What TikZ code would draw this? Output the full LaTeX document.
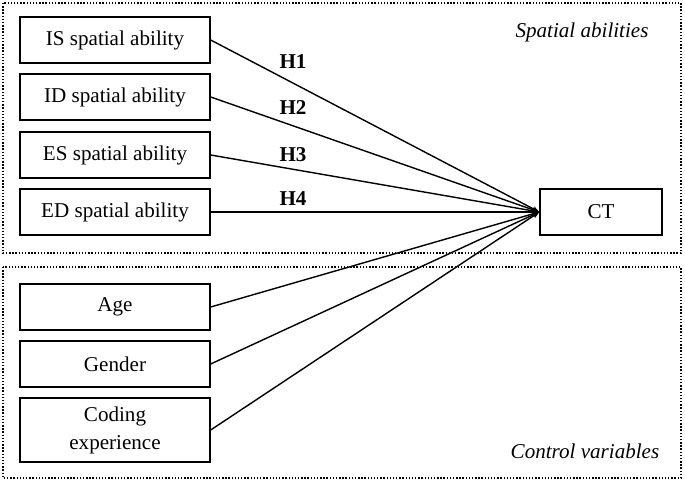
\documentclass[tikz,border=0pt]{standalone}
\usepackage{fontspec}
\setmainfont{Liberation Serif}
\usetikzlibrary{arrows.meta,positioning}
\tikzset{
  vbox/.style={draw, thick, minimum width=3.8cm, minimum height=0.92cm, align=center, font=\fontsize{12}{16}\selectfont, inner sep=1pt},
  grp/.style={draw, densely dotted, thick},
  path/.style={thick, -{Stealth[length=4pt,width=3pt]}},
  hyp/.style={font=\bfseries\fontsize{12}{14}\selectfont},
}
\begin{document}
\begin{tikzpicture}[x=0.02cm,y=-0.02cm]
  \useasboundingbox (0,0) rectangle (685,482);
  % --- Groups ---
  \draw[grp] (3,3) rectangle (681,253);
  \draw[grp] (3,267) rectangle (681,478);
  \node[font=\itshape\fontsize{12}{14}\selectfont] (sa) at (582,32) {Spatial abilities};
  \node[font=\itshape\fontsize{12}{14}\selectfont] (cv) at (585,451) {Control variables};

  % --- Predictors ---
  \node[vbox] (is) at (115,40) {IS spatial ability};
  \node[vbox] (id) at (115,97) {ID spatial ability};
  \node[vbox] (es) at (115,155) {ES spatial ability};
  \node[vbox] (ed) at (115,212) {ED spatial ability};
  \node[vbox] (age) at (115,307) {Age};
  \node[vbox] (gen) at (115,364) {Gender};
  \node[vbox, minimum height=1.28cm] (cod) at (115,430) {Coding\\experience};

  % --- Outcome ---
  \node[vbox, minimum width=2.44cm] (ct) at (601,212) {CT};
  \coordinate (tip) at (ct.west);

  % --- Paths ---
  \draw[path] (is.east) -- (tip);
  \draw[path] (id.east) -- (tip);
  \draw[path] (es.east) -- (tip);
  \draw[path] (ed.east) -- (tip);
  \draw[path] (age.east) -- (tip);
  \draw[path] (gen.east) -- (tip);
  \draw[path] (cod.east) -- (tip);

  \node[hyp] (h1) at (293,62) {H1};
  \node[hyp] (h2) at (293,108) {H2};
  \node[hyp] (h3) at (293,155) {H3};
  \node[hyp] (h4) at (293,199) {H4};
\end{tikzpicture}
\end{document}
